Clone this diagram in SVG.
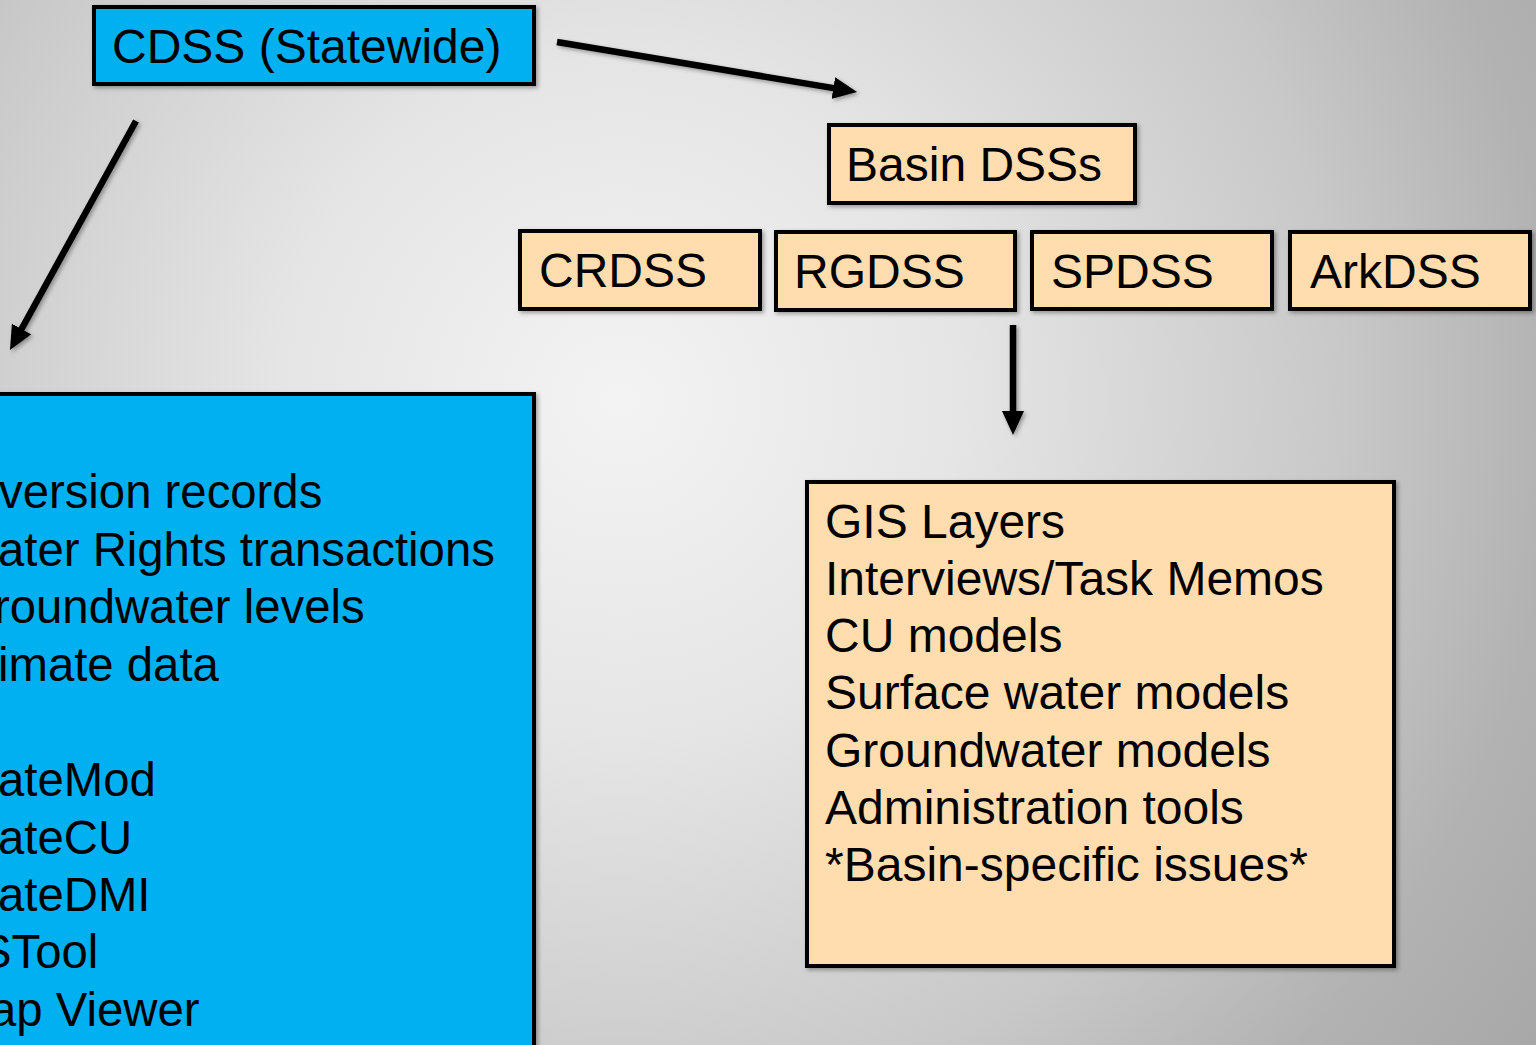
<svg xmlns="http://www.w3.org/2000/svg" width="1536" height="1045" viewBox="0 0 1536 1045">
  <defs>
    <radialGradient id="bg" gradientUnits="userSpaceOnUse" cx="620" cy="400" r="1130">
      <stop offset="0" stop-color="#f3f3f3"/>
      <stop offset="0.3" stop-color="#e5e5e5"/>
      <stop offset="0.64" stop-color="#c8c8c8"/>
      <stop offset="0.83" stop-color="#b2b2b2"/>
      <stop offset="1" stop-color="#a7a7a7"/>
    </radialGradient>
    <filter id="sh" x="-10%" y="-10%" width="130%" height="130%">
      <feDropShadow dx="2" dy="2" stdDeviation="2" flood-color="#000" flood-opacity="0.35"/>
    </filter>
    <marker id="ah" viewBox="0 0 24 22" refX="2" refY="11" markerWidth="24" markerHeight="22" markerUnits="userSpaceOnUse" orient="auto">
      <path d="M0,0 L24,11 L0,22 Z" fill="#000"/>
    </marker>
    <style>
      .blue { fill: #00B0F0; stroke: #000; stroke-width: 4; }
      .peach { fill: #FFDDAF; stroke: #000; stroke-width: 4; }
      .t { font-family: "Liberation Sans", Arial, sans-serif; font-size: 48px; fill: #000; }
      .s { font-size: 47.3px; }
      .conn { stroke: #000; stroke-width: 6.5; fill: none; marker-end: url(#ah); }
    </style>
  </defs>

  <rect x="0" y="0" width="1536" height="1045" fill="url(#bg)"/>

  <g id="connectors" filter="url(#sh)">
    <line class="conn" x1="557" y1="42" x2="835.3" y2="88.4"/>
    <line class="conn" x1="136" y1="121" x2="20.6" y2="330.7"/>
    <line class="conn" x1="1013" y1="325" x2="1013" y2="413"/>
  </g>

  <g id="cdss">
    <rect class="blue" x="94" y="7" width="440" height="77" filter="url(#sh)"/>
    <text class="t" x="112" y="63">CDSS (Statewide)</text>
  </g>

  <g id="basin">
    <rect class="peach" x="829" y="125" width="306" height="78" filter="url(#sh)"/>
    <text class="t" x="846" y="181">Basin DSSs</text>
  </g>

  <g id="crdss">
    <rect class="peach" x="520" y="231" width="240" height="78" filter="url(#sh)"/>
    <text class="t" x="539" y="287">CRDSS</text>
  </g>
  <g id="rgdss">
    <rect class="peach" x="776" y="232" width="239" height="78" filter="url(#sh)"/>
    <text class="t" x="794" y="288">RGDSS</text>
  </g>
  <g id="spdss">
    <rect class="peach" x="1032" y="232" width="240" height="77" filter="url(#sh)"/>
    <text class="t" x="1051" y="288">SPDSS</text>
  </g>
  <g id="arkdss">
    <rect class="peach" x="1290" y="232" width="240" height="77" filter="url(#sh)"/>
    <text class="t" x="1310" y="288">ArkDSS</text>
  </g>

  <g id="statewide-list">
    <rect class="blue" x="-20" y="394" width="554" height="680" filter="url(#sh)"/>
    <text class="t s" x="-1" y="508">version records</text>
    <text class="t s" x="-2" y="566">ater Rights transactions</text>
    <text class="t s" x="-6" y="623">roundwater levels</text>
    <text class="t s" x="-2" y="681">imate data</text>
    <text class="t s" x="-2" y="796">ateMod</text>
    <text class="t s" x="-2" y="854">ateCU</text>
    <text class="t s" x="-2" y="911">ateDMI</text>
    <text class="t s" x="-20" y="968">STool</text>
    <text class="t s" x="-10" y="1026">ap Viewer</text>
  </g>

  <g id="basin-list">
    <rect class="peach" x="807" y="482" width="587" height="484" filter="url(#sh)"/>
    <text class="t" x="825" y="538">GIS Layers</text>
    <text class="t" x="825" y="595">Interviews/Task Memos</text>
    <text class="t" x="825" y="652">CU models</text>
    <text class="t" x="825" y="709">Surface water models</text>
    <text class="t" x="825" y="767">Groundwater models</text>
    <text class="t" x="825" y="824">Administration tools</text>
    <text class="t" x="825" y="881">*Basin-specific issues*</text>
  </g>
</svg>
